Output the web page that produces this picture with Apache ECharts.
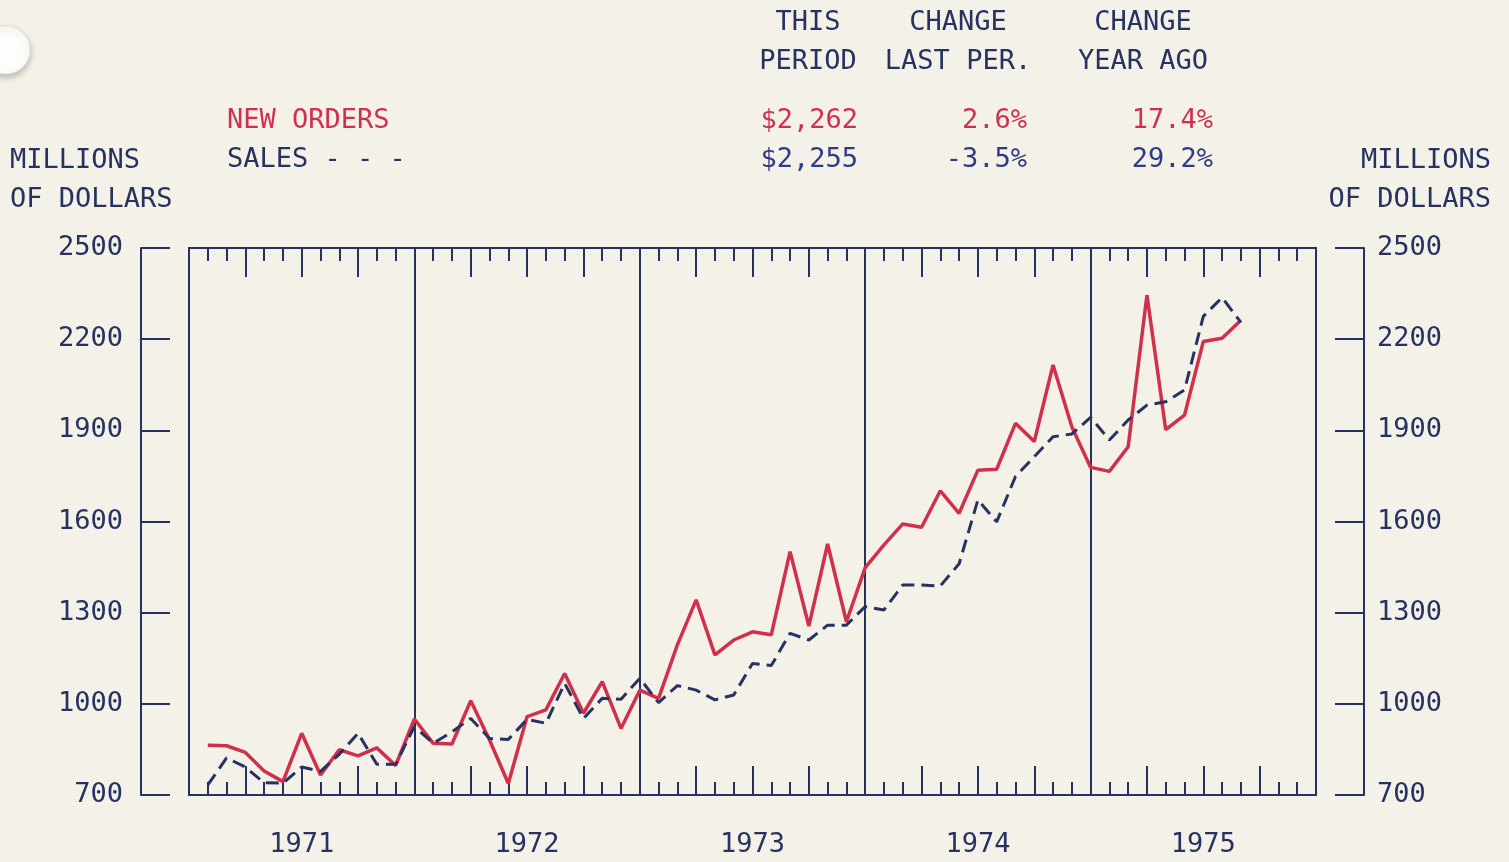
<!DOCTYPE html>
<html>
<head>
<meta charset="utf-8">
<script src="https://cdn.jsdelivr.net/npm/echarts@6/dist/echarts.min.js"></script>
<style>
html,body{margin:0;padding:0;background:#f4f1e8;}
#chart{width:1509px;height:862px;}
</style>
</head>
<body>
<div id="chart"></div>
<script>
// ---- data (monthly, Jan 1971 .. Aug 1975), millions of dollars ----
const years = ['1971', '1972', '1973', '1974', '1975'];
const newOrders = [
  864, 862, 840, 779, 744, 903, 766, 849, 829, 855, 797, 950,
  870, 868, 1010, 881, 738, 958, 980, 1100, 969, 1073, 919, 1045,
  1018, 1194, 1342, 1161, 1210, 1237, 1227, 1501, 1256, 1526, 1270, 1448,
  1523, 1592, 1581, 1701, 1627, 1769, 1772, 1923, 1863, 2115, 1912, 1778,
  1765, 1846, 2345, 1902, 1950, 2192, 2203, 2262
];
const sales = [
  733, 822, 792, 740, 739, 792, 778, 834, 903, 801, 801, 925,
  870, 908, 952, 886, 883, 949, 936, 1067, 952, 1018, 1015, 1084,
  1004, 1060, 1045, 1013, 1029, 1133, 1126, 1232, 1210, 1259, 1259, 1320,
  1309, 1391, 1391, 1388, 1461, 1671, 1599, 1748, 1813, 1879, 1888, 1943,
  1868, 1934, 1983, 1994, 2033, 2275, 2337, 2255
];
const yTicks = [700, 2500, 300]; // min, max, step
const headerCols = ['THIS\nPERIOD', 'CHANGE\nLAST PER.', 'CHANGE\nYEAR AGO'];
const ordersStats = ['$2,262', '2.6%', '17.4%'];
const salesStats = ['$2,255', '-3.5%', '29.2%'];
const seriesNames = ['NEW ORDERS', 'SALES - - -'];
const axisTitle = 'MILLIONS\nOF DOLLARS';

// ---- styles ----
const NAVY = '#263260';
const BLUE = '#2f3b84';
const RED = '#d1304d';
const FONT = "'DejaVu Sans Mono', monospace";
const FS = 27;

const chart = echarts.init(document.getElementById('chart'));

function txt(text, x, y, align, color, lh) {
  return {
    type: 'text', x: x, y: y,
    style: {
      text: text, font: FS + 'px ' + FONT, fill: color,
      align: align, textAlign: align, verticalAlign: 'middle', lineHeight: lh || 39
    }
  };
}

const colCenters = [808, 958, 1143];
const colRights = [858, 1027, 1213];
const graphics = [];
// hole punch
graphics.push({
  type: 'circle', shape: {cx: 6, cy: 50, r: 24},
  style: {fill: '#fdfdfb', stroke: '#e4e2dc', lineWidth: 1,
          shadowBlur: 6, shadowColor: 'rgba(0,0,0,0.25)', shadowOffsetY: 3}
});
headerCols.forEach((t, i) => graphics.push(txt(t, colCenters[i], 42, 'center', NAVY)));
ordersStats.forEach((t, i) => graphics.push(txt(t, colRights[i], 121, 'right', RED)));
salesStats.forEach((t, i) => graphics.push(txt(t, colRights[i], 160, 'right', BLUE)));
graphics.push(txt(seriesNames[0], 227, 121, 'left', RED));
graphics.push(txt(seriesNames[1], 227, 160, 'left', NAVY));
graphics.push(txt(axisTitle, 10, 180, 'left', NAVY));
graphics.push(txt(axisTitle, 1491, 180, 'right', NAVY));

const tickLine = {color: NAVY, width: 2};
function monthAxis(pos) {
  return {
    type: 'value', min: 0, max: 60, interval: 3, position: pos,
    axisLine: {show: false, onZero: false},
    axisTick: {show: true, inside: true, length: 29, lineStyle: tickLine},
    minorTick: {show: true, splitNumber: 3, length: 13, lineStyle: tickLine},
    axisLabel: {show: false},
    splitLine: {show: false}
  };
}
function valueAxis(pos, margin) {
  return {
    type: 'value', min: yTicks[0], max: yTicks[1], interval: yTicks[2],
    position: pos, offset: 48,
    axisLine: {show: true, onZero: false, lineStyle: {color: NAVY, width: 2}},
    axisTick: {show: true, inside: true, length: 29, lineStyle: tickLine},
    axisLabel: {margin: margin, fontSize: FS, fontFamily: FONT, color: NAVY,
                formatter: v => String(v)},
    splitLine: {show: false}
  };
}

chart.setOption({
  backgroundColor: '#f4f1e8',
  animation: false,
  grid: {left: 189, right: 193, top: 248, bottom: 67, show: true,
         borderColor: NAVY, borderWidth: 2, backgroundColor: 'transparent'},
  xAxis: [
    monthAxis('bottom'),
    monthAxis('top'),
    {
      type: 'category', data: years, boundaryGap: true, position: 'bottom',
      axisLine: {show: false, onZero: false}, axisTick: {show: false},
      axisLabel: {margin: 36, fontSize: FS, fontFamily: FONT, color: NAVY},
      splitLine: {show: true, lineStyle: {color: NAVY, width: 2}}
    }
  ],
  yAxis: [valueAxis('left', 18), valueAxis('right', 13)],
  graphic: graphics,
  series: [
    {
      name: 'NEW ORDERS', type: 'line', xAxisIndex: 0, yAxisIndex: 0,
      data: newOrders.map((v, i) => [i + 1, v]),
      showSymbol: false, lineStyle: {color: RED, width: 3.5}, z: 3
    },
    {
      name: 'SALES', type: 'line', xAxisIndex: 0, yAxisIndex: 0,
      data: sales.map((v, i) => [i + 1, v]),
      showSymbol: false, lineStyle: {color: NAVY, width: 3, type: [13, 7]}, z: 4
    }
  ]
});
</script>
</body>
</html>
